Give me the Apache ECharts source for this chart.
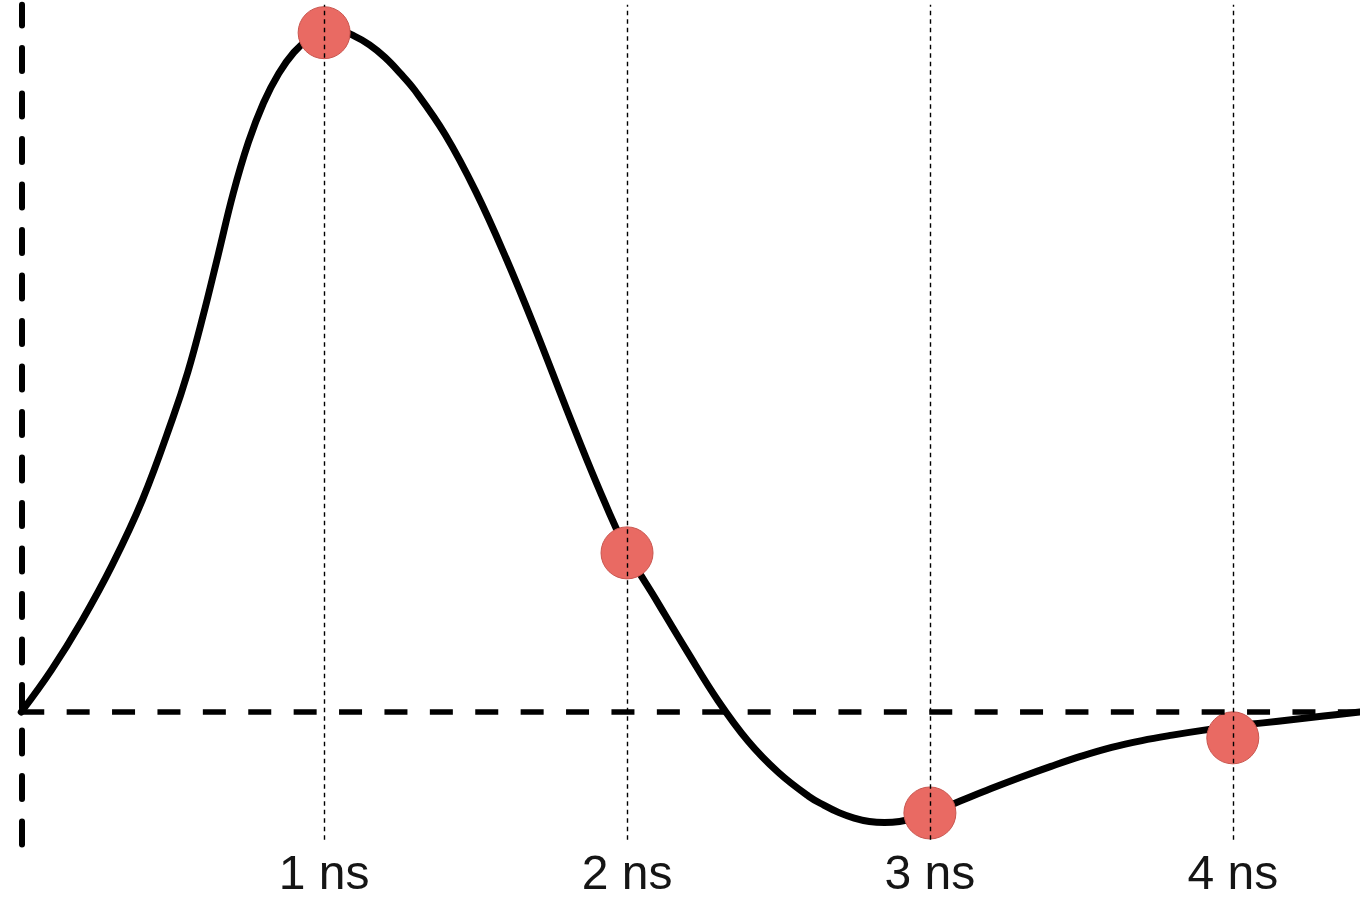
<!DOCTYPE html>
<html>
<head>
<meta charset="utf-8">
<script src="https://cdn.jsdelivr.net/npm/echarts@6/dist/echarts.min.js"></script>
<style>
html,body{margin:0;padding:0;background:#fff;}
#chart{width:1360px;height:899px;}
</style>
</head>
<body>
<div id="chart"></div>
<script>
// time in ns
const curveX = [0, 0.1, 0.2, 0.3, 0.4, 0.5, 0.55, 0.6, 0.65, 0.7, 0.75, 0.8, 0.85, 0.9, 0.95, 1.0, 1.05, 1.1, 1.15, 1.2, 1.25, 1.3, 1.4, 1.5, 1.6, 1.7, 1.8, 1.9, 2.0, 2.1, 2.2, 2.3, 2.4, 2.5, 2.6, 2.65, 2.7, 2.75, 2.8, 2.85, 2.9, 2.95, 3.0, 3.05, 3.1, 3.2, 3.3, 3.4, 3.5, 3.6, 3.7, 3.8, 3.9, 4.0, 4.1, 4.2, 4.3, 4.42];
// amplitude (peak = 1)
const curveY = [0, 0.062, 0.134, 0.216, 0.312, 0.432, 0.500, 0.582, 0.672, 0.763, 0.838, 0.896, 0.939, 0.970, 0.990, 1.000, 1.001, 0.994, 0.981, 0.963, 0.940, 0.914, 0.849, 0.766, 0.668, 0.560, 0.446, 0.336, 0.237, 0.162, 0.088, 0.017, -0.043, -0.089, -0.124, -0.137, -0.148, -0.156, -0.161, -0.1625, -0.161, -0.156, -0.149, -0.140, -0.131, -0.113, -0.096, -0.080, -0.065, -0.052, -0.042, -0.034, -0.027, -0.021, -0.016, -0.011, -0.006, 0];
const sampleX = [1, 2, 3, 4];
const sampleY = [0.999, 0.234, -0.1485, -0.038];
const tickValues = [1, 2, 3, 4];
const tickLabels = ['1 ns', '2 ns', '3 ns', '4 ns'];

const curveData = curveX.map((x, i) => [x, curveY[i]]);
const sampleData = sampleX.map((x, i) => [x, sampleY[i]]);
const Y_MIN = -0.195, Y_MAX = 1.04, GRID_LINE_BOTTOM = -0.188;
const vLines = tickValues.map(v => [{coord: [v, GRID_LINE_BOTTOM], lineStyle: {color: '#000', width: 1.4, type: [4.5, 4]}}, {coord: [v, Y_MAX]}]);
const zeroLine = [{coord: [0, 0], lineStyle: {color: '#000', width: 5.5, type: [23, 22.4]}}, {coord: [4.42, 0]}];

const chart = echarts.init(document.getElementById('chart'), null, {renderer: 'canvas'});
chart.setOption({
  animation: false,
  backgroundColor: '#ffffff',
  grid: {left: 21.25, right: 0, top: 4.8, bottom: 54.4, containLabel: false, outerBoundsMode: 'none'},
  xAxis: {
    type: 'value', min: 0, max: 4.42, interval: 1,
    axisLine: {show: false}, axisTick: {show: false}, splitLine: {show: false},
    axisLabel: {
      show: true, showMaxLabel: false, showMinLabel: false,
      margin: 31, verticalAlign: 'middle', lineHeight: 40,
      fontFamily: 'Liberation Sans, Arial, sans-serif', fontSize: 48, color: '#151515',
      formatter: function (v) { const i = tickValues.indexOf(v); return i >= 0 ? tickLabels[i] : ''; }
    }
  },
  yAxis: {
    type: 'value', min: Y_MIN, max: Y_MAX,
    axisLine: {show: true, lineStyle: {color: '#000', width: 6, type: [23, 22.5]}},
    axisTick: {show: false}, axisLabel: {show: false}, splitLine: {show: false}
  },
  series: [
    {
      type: 'line', data: [], z: 1, silent: true,
      markLine: {
        silent: true, symbol: ['none', 'none'], animation: false,
        label: {show: false},
        data: vLines.concat([zeroLine])
      }
    },
    {
      type: 'line', data: curveData, z: 2, smooth: 0.4, showSymbol: false, silent: true,
      lineStyle: {color: '#000', width: 7, cap: 'round', join: 'round'}
    },
    {
      type: 'scatter', data: sampleData, z: 3, symbol: 'circle', symbolSize: 52, silent: true,
      itemStyle: {color: '#e96a63', borderColor: '#c9564f', borderWidth: 1, opacity: 1}
    }
  ]
});
</script>
</body>
</html>
